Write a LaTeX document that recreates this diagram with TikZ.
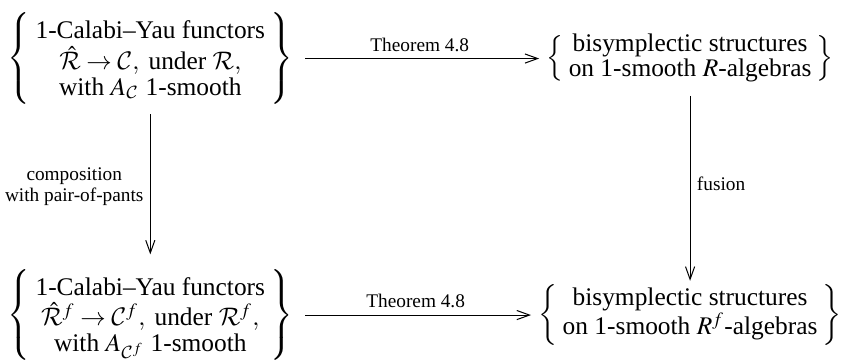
\documentclass[tikz,border=0pt]{standalone}
\usepackage{amsmath, amssymb}
\usepackage{mathptmx}
\DeclareMathAlphabet{\mathcal}{OMS}{cmsy}{m}{n}
\usepackage{fontspec}
\setmainfont{Liberation Serif}
\usepackage{xcolor}
\usepackage{tikz}
\usetikzlibrary{calc, positioning, arrows.meta}
\newcommand{\topgap}{\rule{0pt}{11pt}}
\newcommand{\botgap}{\rule[-4.5pt]{0pt}{0pt}}
\tikzset{
    setnode/.style={inner sep=0pt, outer sep=0pt, align=center,
        execute at begin node={\setlength{\arraycolsep}{2pt}\renewcommand{\arraystretch}{0.85}}},
    pairnode/.style={setnode, execute at begin node={\renewcommand{\arraystretch}{0.78}}},
    arrow/.style={-{Straight Barb[length=5pt, width=3.6pt]}, line width=0.4pt},
    label/.style={font=\fontsize{7.6}{8}\selectfont, align=center, inner sep=2.5pt}
}

\begin{document}
\begin{tikzpicture}
    \useasboundingbox (0,0) rectangle (11.68, 4.98);

    % Sets of functors (left column)
    \node[setnode] (calabi) at (2.08, 4.17) {$\left\{\begin{array}{c}
        \topgap\text{1-Calabi--Yau functors}\\
        \hat{\mathcal{R}}\to\mathcal{C},\ \text{under }\mathcal{R},\\
        \text{with }A_{\mathcal{C}}\text{ 1-smooth}\botgap
        \end{array}\right\}$};
    \node[setnode] (calabiF) at (2.08, 0.62) {$\left\{\begin{array}{c}
        \topgap\text{1-Calabi--Yau functors}\\
        \hat{\mathcal{R}}^f\to\mathcal{C}^f,\ \text{under }\mathcal{R}^f,\\
        \text{with }A_{\mathcal{C}^f}\text{ 1-smooth}\botgap
        \end{array}\right\}$};

    % Bisymplectic structures (right column)
    \node[pairnode] (bisym) at (9.55, 4.17) {$\left\{\begin{array}{c}
        \text{bisymplectic structures}\\
        \text{on 1-smooth }R\text{-algebras}
        \end{array}\right\}$};
    \node[pairnode] (bisymF) at (9.55, 0.62) {$\left\{\begin{array}{c}
        \text{bisymplectic structures}\\
        \text{on 1-smooth }R^f\text{-algebras}
        \end{array}\right\}$};

    % Horizontal maps
    \draw[arrow, shorten <=5pt, shorten >=3pt] (calabi.east) -- (calabi.east -| bisym.west)
        node[midway, above, label] {Theorem 4.8};
    \draw[arrow, shorten <=5pt, shorten >=3pt] (calabiF.east) -- (calabiF.east -| bisymF.west)
        node[midway, above, label] {Theorem 4.8};

    % Vertical maps
    \draw[arrow, shorten <=3pt, shorten >=5pt] (calabi.south) -- (calabi.south |- calabiF.north)
        node[midway, left, label] {composition\\with pair-of-pants};
    \draw[arrow, shorten <=5pt, shorten >=1.5pt] (bisym.south) -- (bisym.south |- bisymF.north)
        node[midway, right, label] {fusion};

\end{tikzpicture}
\end{document}
